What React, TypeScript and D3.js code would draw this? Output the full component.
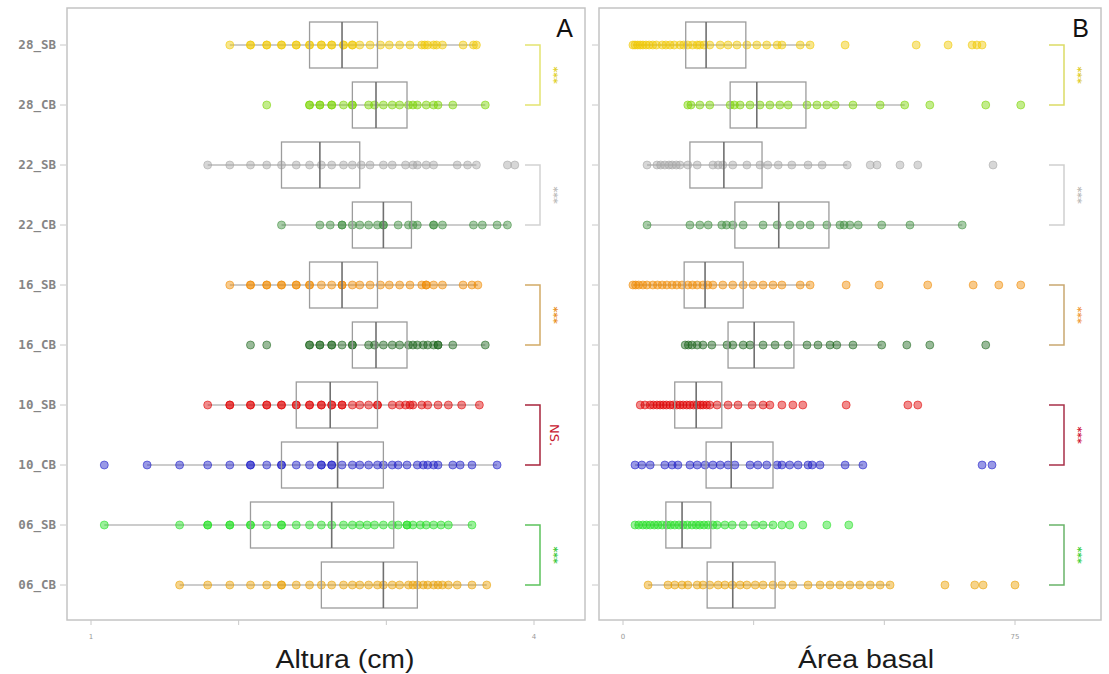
import React from "react";
import * as d3 from "d3";

// ---------- categories & colours ----------
const categories = ["28_SB", "28_CB", "22_SB", "22_CB", "16_SB", "16_CB", "10_SB", "10_CB", "06_SB", "06_CB"];
const pointColors = ["#f0c800", "#7ad400", "#a6a6a6", "#3f8f3f", "#f08a00", "#1c661c", "#e00000", "#1c1cc8", "#20e020", "#eaa000"];

// ---------- Panel A : Altura (cm) ----------
const alt_28_SB = [1.94, 2.08, 2.08, 2.19, 2.19, 2.29, 2.29, 2.39, 2.39, 2.48, 2.48, 2.56, 2.56, 2.63, 2.63, 2.71, 2.71, 2.77, 2.77, 2.82, 2.89, 2.96, 3.02, 3.09, 3.16, 3.24, 3.26, 3.28, 3.32, 3.34, 3.38, 3.52, 3.59, 3.61];
const alt_28_CB = [2.19, 2.48, 2.48, 2.55, 2.55, 2.63, 2.63, 2.71, 2.77, 2.77, 2.88, 2.92, 2.98, 3.04, 3.09, 3.15, 3.18, 3.21, 3.27, 3.32, 3.35, 3.45, 3.67];
const alt_22_SB = [1.79, 1.94, 2.08, 2.19, 2.29, 2.39, 2.48, 2.56, 2.63, 2.71, 2.77, 2.83, 2.89, 2.98, 3.04, 3.13, 3.18, 3.21, 3.27, 3.32, 3.48, 3.55, 3.61, 3.82, 3.87];
const alt_22_CB = [2.29, 2.55, 2.62, 2.70, 2.70, 2.77, 2.82, 2.88, 2.94, 2.98, 2.98, 3.08, 3.15, 3.18, 3.21, 3.32, 3.32, 3.38, 3.59, 3.65, 3.75, 3.82];
const alt_16_SB = [1.94, 2.08, 2.08, 2.19, 2.19, 2.29, 2.29, 2.39, 2.39, 2.48, 2.48, 2.56, 2.63, 2.70, 2.70, 2.77, 2.82, 2.89, 2.96, 3.02, 3.09, 3.16, 3.24, 3.27, 3.27, 3.32, 3.38, 3.52, 3.58, 3.62];
const alt_16_CB = [2.08, 2.19, 2.48, 2.48, 2.55, 2.55, 2.63, 2.63, 2.70, 2.77, 2.77, 2.88, 2.92, 2.98, 3.04, 3.09, 3.15, 3.18, 3.21, 3.25, 3.28, 3.32, 3.35, 3.35, 3.45, 3.67];
const alt_10_SB = [1.79, 1.94, 1.94, 2.08, 2.08, 2.19, 2.19, 2.29, 2.29, 2.39, 2.39, 2.48, 2.48, 2.56, 2.56, 2.63, 2.63, 2.70, 2.70, 2.77, 2.82, 2.88, 2.94, 2.94, 3.04, 3.09, 3.13, 3.16, 3.18, 3.24, 3.28, 3.35, 3.42, 3.51, 3.63];
const alt_10_CB = [1.09, 1.38, 1.60, 1.79, 1.94, 2.08, 2.08, 2.19, 2.29, 2.29, 2.39, 2.48, 2.56, 2.56, 2.63, 2.63, 2.70, 2.77, 2.82, 2.88, 2.94, 2.98, 3.04, 3.08, 3.14, 3.21, 3.25, 3.28, 3.32, 3.35, 3.45, 3.50, 3.58, 3.75];
const alt_06_SB = [1.09, 1.60, 1.79, 1.79, 1.94, 1.94, 2.08, 2.08, 2.19, 2.29, 2.29, 2.39, 2.48, 2.56, 2.63, 2.71, 2.77, 2.82, 2.87, 2.92, 2.98, 3.04, 3.08, 3.14, 3.14, 3.18, 3.23, 3.27, 3.32, 3.37, 3.42, 3.58];
const alt_06_CB = [1.60, 1.79, 1.94, 2.08, 2.19, 2.29, 2.29, 2.39, 2.48, 2.56, 2.63, 2.71, 2.77, 2.82, 2.88, 2.94, 2.98, 3.04, 3.09, 3.15, 3.18, 3.21, 3.25, 3.28, 3.32, 3.35, 3.38, 3.42, 3.48, 3.58, 3.68];

const altQ1 = [2.48, 2.77, 2.29, 2.77, 2.48, 2.77, 2.39, 2.29, 2.08, 2.56];
const altMed = [2.70, 2.93, 2.55, 2.98, 2.70, 2.93, 2.62, 2.67, 2.63, 2.98];
const altQ3 = [2.94, 3.14, 2.82, 3.17, 2.94, 3.14, 2.94, 2.98, 3.05, 3.21];
const altLo = [1.94, 2.48, 1.79, 2.29, 1.94, 2.48, 1.79, 1.38, 1.09, 1.60];
const altHi = [3.61, 3.67, 3.61, 3.82, 3.62, 3.67, 3.63, 3.75, 3.58, 3.68];

// ---------- Panel B : Área basal ----------
const ab_28_SB = [1.9, 2.3, 2.8, 3.3, 3.8, 4.4, 5.0, 5.7, 6.4, 7.5, 8.2, 9.0, 9.8, 10.9, 11.6, 12.4, 13.3, 14.2, 14.7, 15.5, 16.6, 18.6, 20.1, 21.8, 23.7, 25.6, 27.5, 29.5, 30.4, 33.9, 35.8, 42.5, 56.1, 62.2, 66.8, 67.7, 68.7];
const ab_28_CB = [12.4, 13.0, 14.7, 16.6, 20.5, 21.3, 22.4, 24.3, 26.2, 28.1, 30.0, 31.6, 35.2, 37.1, 39.0, 40.6, 44.0, 49.2, 53.9, 58.7, 69.4, 76.1];
const ab_22_SB = [4.6, 6.5, 7.2, 8.0, 8.8, 9.4, 10.2, 10.9, 12.4, 14.2, 17.2, 18.2, 19.1, 21.0, 23.7, 26.2, 27.7, 29.7, 32.3, 35.4, 38.1, 42.9, 47.3, 48.6, 53.0, 56.4, 70.8];
const ab_22_CB = [4.6, 12.8, 14.7, 16.3, 18.9, 19.8, 21.0, 23.0, 26.8, 29.5, 31.9, 33.9, 35.8, 39.0, 41.5, 42.3, 43.4, 45.0, 49.5, 54.9, 64.9];
const ab_16_SB = [1.9, 2.4, 3.0, 3.8, 4.6, 5.7, 6.6, 7.5, 8.4, 9.4, 10.3, 11.3, 12.4, 13.3, 14.2, 15.3, 16.2, 17.2, 19.1, 21.0, 23.0, 24.9, 26.8, 28.7, 30.4, 33.9, 35.8, 42.7, 49.0, 58.3, 67.0, 71.9, 76.1];
const ab_16_CB = [11.9, 12.5, 13.2, 14.2, 15.3, 17.0, 19.9, 21.0, 23.0, 24.3, 26.8, 29.1, 31.6, 35.2, 37.3, 39.6, 40.9, 44.0, 49.5, 54.3, 58.7, 69.4];
const ab_10_SB = [3.3, 4.2, 5.2, 5.8, 6.5, 7.1, 7.7, 8.3, 9.0, 9.6, 10.3, 10.9, 11.5, 12.2, 12.8, 13.5, 14.2, 14.8, 15.3, 16.0, 16.6, 18.0, 20.1, 22.0, 24.7, 26.8, 28.1, 30.4, 32.5, 34.4, 42.7, 54.5, 56.4];
const ab_10_CB = [2.3, 3.6, 5.2, 8.0, 9.4, 10.5, 12.8, 14.2, 15.7, 17.2, 18.6, 20.1, 21.4, 24.3, 25.8, 27.5, 29.5, 30.4, 31.9, 33.5, 35.4, 36.2, 37.7, 42.5, 45.9, 68.7, 70.6];
const ab_06_SB = [2.3, 3.0, 3.8, 4.5, 5.2, 6.0, 6.7, 7.5, 8.4, 9.1, 9.9, 10.7, 11.5, 12.3, 13.2, 14.0, 14.7, 15.5, 16.3, 17.2, 18.0, 19.5, 20.9, 23.0, 25.3, 26.8, 28.7, 30.4, 31.9, 34.4, 39.0, 43.2];
const ab_06_CB = [4.8, 8.6, 9.9, 11.3, 12.4, 14.2, 15.3, 16.6, 18.2, 19.5, 20.9, 22.4, 23.7, 25.3, 26.8, 28.7, 30.4, 32.5, 35.4, 37.7, 39.6, 41.5, 43.4, 45.3, 47.3, 49.2, 51.1, 61.6, 67.3, 68.9, 75.0];

const abQ1 = [12.0, 20.5, 12.8, 21.4, 11.7, 20.1, 9.9, 15.9, 8.2, 16.1];
const abMed = [15.9, 25.6, 19.3, 29.8, 15.7, 25.1, 14.0, 20.7, 11.3, 21.0];
const abQ3 = [23.5, 35.0, 26.6, 39.4, 23.0, 32.7, 18.9, 28.7, 16.8, 29.1];
const abLo = [1.9, 12.4, 4.6, 4.6, 1.9, 11.9, 3.3, 2.3, 2.3, 4.8];
const abHi = [35.8, 53.9, 42.9, 64.9, 35.8, 49.5, 28.1, 45.9, 28.7, 51.1];

// ---------- significance ----------
const pairNames = ["28", "22", "16", "10", "06"];
const sigA = ["***", "***", "***", "NS.", "***"];
const sigB = ["***", "***", "***", "***", "***"];
const bracketColorsA = ["#e4e470", "#d2d2d2", "#d2aa66", "#a8243c", "#5cc25c"];
const sigColorsA = ["#e0d030", "#bdbdbd", "#e89028", "#c82030", "#40c840"];
const bracketColorsB = ["#dcdc66", "#cfcfcf", "#c9a870", "#a8304a", "#6ab46a"];
const sigColorsB = ["#e0cc30", "#bbbbbb", "#f09a40", "#d01840", "#40d040"];

const tickValsA = [1, 2, 3, 4];
const tickLabelsA = ["1", "", "", "4"];
const tickValsB = [0, 25, 50, 75];
const tickLabelsB = ["0", "", "", "75"];

const altData = [alt_28_SB, alt_28_CB, alt_22_SB, alt_22_CB, alt_16_SB, alt_16_CB, alt_10_SB, alt_10_CB, alt_06_SB, alt_06_CB];
const abData = [ab_28_SB, ab_28_CB, ab_22_SB, ab_22_CB, ab_16_SB, ab_16_CB, ab_10_SB, ab_10_CB, ab_06_SB, ab_06_CB];

const W = 1109;
const H = 674;
const TOP = 8;
const BOTTOM = 620;

const y = d3.scalePoint<string>().domain(categories).range([45, 585]);
const xA = d3.scaleLinear().domain([1, 4]).range([91, 534]);
const xB = d3.scaleLinear().domain([0, 75]).range([623, 1015]);

type PanelProps = {
  x: d3.ScaleLinear<number, number>;
  left: number;
  right: number;
  data: number[][];
  q1: number[];
  med: number[];
  q3: number[];
  lo: number[];
  hi: number[];
  tickVals: number[];
  tickLabels: string[];
  title: string;
  titleX: number;
  titleLen: number;
  letter: string;
  sig: string[];
  bracketColors: string[];
  sigColors: string[];
  bracketX: number;
  showYLabels: boolean;
};

function Panel(p: PanelProps) {
  const boxH = 46;
  const stubW = 15;
  return (
    <g>
      <rect x={p.left} y={TOP} width={p.right - p.left} height={BOTTOM - TOP} fill="#fff" stroke="#c4c4c4" strokeWidth={1.5} />
      {/* y ticks */}
      {categories.map((c) => (
        <g key={"yt" + c}>
          <line x1={p.left - 7} x2={p.left - 1} y1={y(c)} y2={y(c)} stroke="#c8c8c8" strokeWidth={1} />
          {p.showYLabels && (
            <text x={p.left - 11} y={(y(c) as number) + 4} textAnchor="end" fontFamily="'DejaVu Sans Mono', monospace" fontSize={12.5} fontWeight="bold" fill="#858585">
              {c}
            </text>
          )}
        </g>
      ))}
      {/* x ticks */}
      {p.tickVals.map((v, i) => (
        <g key={"xt" + v}>
          <line x1={p.x(v)} x2={p.x(v)} y1={BOTTOM} y2={BOTTOM + 5} stroke="#c8c8c8" strokeWidth={1} />
          <text x={p.x(v)} y={BOTTOM + 19} textAnchor="middle" fontFamily="'DejaVu Sans', sans-serif" fontSize={7} fill="#999">
            {p.tickLabels[i]}
          </text>
        </g>
      ))}
      {/* whiskers */}
      {categories.map((c, i) => (
        <line key={"w" + c} x1={p.x(p.lo[i])} x2={p.x(p.hi[i])} y1={y(c)} y2={y(c)} stroke="#9a9a9a" strokeWidth={1.2} />
      ))}
      {/* points */}
      {categories.map((c, i) => (
        <g key={"p" + c}>
          {p.data[i].map((v, j) => (
            <circle key={j} cx={p.x(v)} cy={y(c)} r={4} fill={pointColors[i]} fillOpacity={0.45} stroke={pointColors[i]} strokeOpacity={0.55} strokeWidth={1} />
          ))}
        </g>
      ))}
      {/* boxes */}
      {categories.map((c, i) => {
        const cy = y(c) as number;
        return (
          <g key={"b" + c}>
            <rect x={p.x(p.q1[i])} y={cy - boxH / 2} width={p.x(p.q3[i]) - p.x(p.q1[i])} height={boxH} fill="none" stroke="#9c9c9c" strokeWidth={1.3} />
            <line x1={p.x(p.med[i])} x2={p.x(p.med[i])} y1={cy - boxH / 2} y2={cy + boxH / 2} stroke="#707070" strokeWidth={1.6} />
          </g>
        );
      })}
      {/* brackets */}
      {pairNames.map((n, k) => {
        const y1 = y(categories[2 * k]) as number;
        const y2 = y(categories[2 * k + 1]) as number;
        const bx = p.bracketX;
        const col = p.bracketColors[k];
        const ym = (y1 + y2) / 2;
        const isNS = p.sig[k] !== "***";
        return (
          <g key={"br" + n}>
            <path d={`M${bx - stubW},${y1}H${bx}V${y2}H${bx - stubW}`} fill="none" stroke={col} strokeWidth={1.5} />
            <text
              transform={`translate(${bx + 10},${ym}) rotate(90)`}
              textAnchor="middle"
              fontFamily="'DejaVu Sans', sans-serif"
              fontSize={isNS ? 13 : 11}
              fontWeight={isNS ? "normal" : "bold"}
              fill={p.sigColors[k]}
            >
              {p.sig[k]}
            </text>
          </g>
        );
      })}
      <text x={p.right - 12} y={37} textAnchor="end" fontFamily="'Liberation Sans', Arial, sans-serif" fontSize={25} fill="#111">
        {p.letter}
      </text>
      <text
        x={p.titleX}
        y={668}
        textAnchor="middle"
        fontFamily="'Liberation Sans', Arial, sans-serif"
        fontSize={26}
        fill="#1a1a1a"
        textLength={p.titleLen}
        lengthAdjust="spacingAndGlyphs"
      >
        {p.title}
      </text>
    </g>
  );
}

export default function App() {
  return (
    <svg width={W} height={H} style={{ position: "absolute", left: 0, top: 0, background: "#fff" }}>
      <rect x={0} y={0} width={W} height={H} fill="#fff" />
      <Panel
        x={xA}
        left={67}
        right={585}
        data={altData}
        q1={altQ1}
        med={altMed}
        q3={altQ3}
        lo={altLo}
        hi={altHi}
        tickVals={tickValsA}
        tickLabels={tickLabelsA}
        title="Altura (cm)"
        titleX={345}
        titleLen={139}
        letter="A"
        sig={sigA}
        bracketColors={bracketColorsA}
        sigColors={sigColorsA}
        bracketX={540}
        showYLabels={true}
      />
      <Panel
        x={xB}
        left={599}
        right={1101}
        data={abData}
        q1={abQ1}
        med={abMed}
        q3={abQ3}
        lo={abLo}
        hi={abHi}
        tickVals={tickValsB}
        tickLabels={tickLabelsB}
        title="Área basal"
        titleX={866}
        titleLen={136}
        letter="B"
        sig={sigB}
        bracketColors={bracketColorsB}
        sigColors={sigColorsB}
        bracketX={1064}
        showYLabels={false}
      />
    </svg>
  );
}
